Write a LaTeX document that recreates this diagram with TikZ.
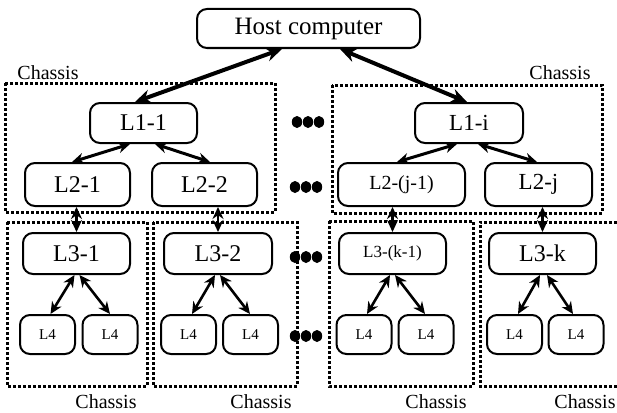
\documentclass[tikz,border=0pt]{standalone}
\usepackage{fontspec}
\setmainfont{Liberation Serif}
\usetikzlibrary{arrows.meta,calc}

\tikzset{
  unit/.style={draw, line width=2pt, rounded corners=10pt, inner sep=0pt, align=center},
  chassis/.style={line width=3pt, dash pattern=on 3pt off 2pt},
  chlabel/.style={font=\fontsize{20}{22}\selectfont, inner sep=0pt},
  link/.style={line width=2.6pt, {Stealth[length=12pt,width=11pt]}-{Stealth[length=12pt,width=11pt]}},
  biglink/.style={line width=4pt, {Stealth[length=16pt,width=14pt]}-{Stealth[length=16pt,width=14pt]}},
  dot/.style={fill=black}
}

\begin{document}
\begin{tikzpicture}[x=1pt, y=-1pt]
\useasboundingbox (0,0) rectangle (617,412);

% chassis frames
\draw[chassis] (5,83) rectangle (275,212);
\draw[chassis] (332,85) rectangle (602,213);
\draw[chassis] (7,222) rectangle (147,386);
\draw[chassis] (153,222) rectangle (297,386);
\draw[chassis] (329,221) rectangle (473,386);
\draw[chassis] (622,222) -- (480,222) -- (480,386) -- (622,386);

% chassis labels
\node[chlabel] (chA) at (48,73) {Chassis};
\node[chlabel] (chB) at (560,73) {Chassis};
\node[chlabel] (chC) at (106,402) {Chassis};
\node[chlabel] (chD) at (261,402) {Chassis};
\node[chlabel] (chE) at (436,402) {Chassis};
\node[chlabel] (chF) at (585,402) {Chassis};

% host
\node[unit, minimum width=223pt, minimum height=39pt, font=\fontsize{25}{28}\selectfont] (host) at (308.5,28.5) {Host computer};

% level 1
\node[unit, minimum width=107pt, minimum height=40pt, font=\fontsize{24}{26}\selectfont] (L11) at (143.5,123) {L1-1};
\node[unit, minimum width=108pt, minimum height=40pt, font=\fontsize{23}{26}\selectfont] (L1i) at (469,123) {L1-i};

% level 2
\node[unit, minimum width=105pt, minimum height=43pt, font=\fontsize{24}{26}\selectfont] (L21) at (77.5,184.5) {L2-1};
\node[unit, minimum width=105pt, minimum height=43pt, font=\fontsize{24}{26}\selectfont] (L22) at (204.5,184.5) {L2-2};
\node[unit, minimum width=127pt, minimum height=43pt, font=\fontsize{20}{24}\selectfont] (L2j1) at (401.5,184.5) {L2-(j-1)};
\node[unit, minimum width=107pt, minimum height=43pt, font=\fontsize{23}{26}\selectfont] (L2j) at (538.5,184.5) {L2-j};

% level 3
\node[unit, minimum width=107pt, minimum height=41pt, font=\fontsize{24}{26}\selectfont] (L31) at (76.5,253.5) {L3-1};
\node[unit, minimum width=108pt, minimum height=41pt, font=\fontsize{24}{26}\selectfont] (L32) at (218,253.5) {L3-2};
\node[unit, minimum width=107pt, minimum height=41pt, font=\fontsize{17}{20}\selectfont] (L3k1) at (392.5,253.5) {L3-(k-1)};
\node[unit, minimum width=107pt, minimum height=41pt, font=\fontsize{24}{26}\selectfont] (L3k) at (542.5,253.5) {L3-k};

% level 4
\tikzset{leaf/.style={unit, minimum width=55pt, minimum height=39pt, font=\fontsize{15}{18}\selectfont}}
\node[leaf] (L4a) at (47.5,334.5) {L4};
\node[leaf] (L4b) at (110,334.5) {L4};
\node[leaf] (L4c) at (188.5,334.5) {L4};
\node[leaf] (L4d) at (250.5,334.5) {L4};
\node[leaf] (L4e) at (364,334.5) {L4};
\node[leaf] (L4f) at (426,334.5) {L4};
\node[leaf] (L4g) at (514.5,334.5) {L4};
\node[leaf] (L4h) at (576,334.5) {L4};

% host links
\draw[biglink] ([xshift=-26.5pt]host.south) -- ([xshift=-8.5pt]L11.north);
\draw[biglink] ([xshift=31.5pt]host.south) -- ([xshift=-2pt]L1i.north);

% level 1 to level 2
\draw[link, line width=3pt] ([xshift=-13.5pt]L11.south) -- ([xshift=-5.5pt]L21.north);
\draw[link, line width=3pt] ([xshift=11.5pt]L11.south) -- ([xshift=5.5pt]L22.north);
\draw[link, line width=3pt] ([xshift=-12pt]L1i.south) -- ([xshift=-4.5pt]L2j1.north);
\draw[link, line width=3pt] ([xshift=9pt]L1i.south) -- ([xshift=-1.5pt]L2j.north);

% level 2 to level 3
\draw[link] (L31.north |- L21.south) -- (L31.north);
\draw[link] (L32.north |- L22.south) -- (L32.north);
\draw[link] (L3k1.north |- L2j1.south) -- (L3k1.north);
\draw[link] (L3k.north |- L2j.south) -- (L3k.north);

% level 3 to level 4
\draw[link] ([xshift=-2pt]L31.south) -- ([xshift=3pt]L4a.north);
\draw[link] ([xshift=3pt]L31.south) -- ([xshift=0pt]L4b.north);
\draw[link] ([xshift=-3pt]L32.south) -- ([xshift=3.5pt]L4c.north);
\draw[link] ([xshift=2pt]L32.south) -- ([xshift=-0.5pt]L4d.north);
\draw[link] ([xshift=-2.5pt]L3k1.south) -- ([xshift=3pt]L4e.north);
\draw[link] ([xshift=2.5pt]L3k1.south) -- ([xshift=-1pt]L4f.north);
\draw[link] ([xshift=-2.5pt]L3k.south) -- ([xshift=3.5pt]L4g.north);
\draw[link] ([xshift=4.5pt]L3k.south) -- ([xshift=-3pt]L4h.north);

% ellipsis marks between branches
\foreach \yy/\xx in {122/297, 187/295, 257/295, 336/295}{
  \foreach \k in {0,1,2}{
    \fill[dot] (\xx+\k*11,\yy) ellipse (5.2pt and 6pt);
  }
}
\end{tikzpicture}
\end{document}
